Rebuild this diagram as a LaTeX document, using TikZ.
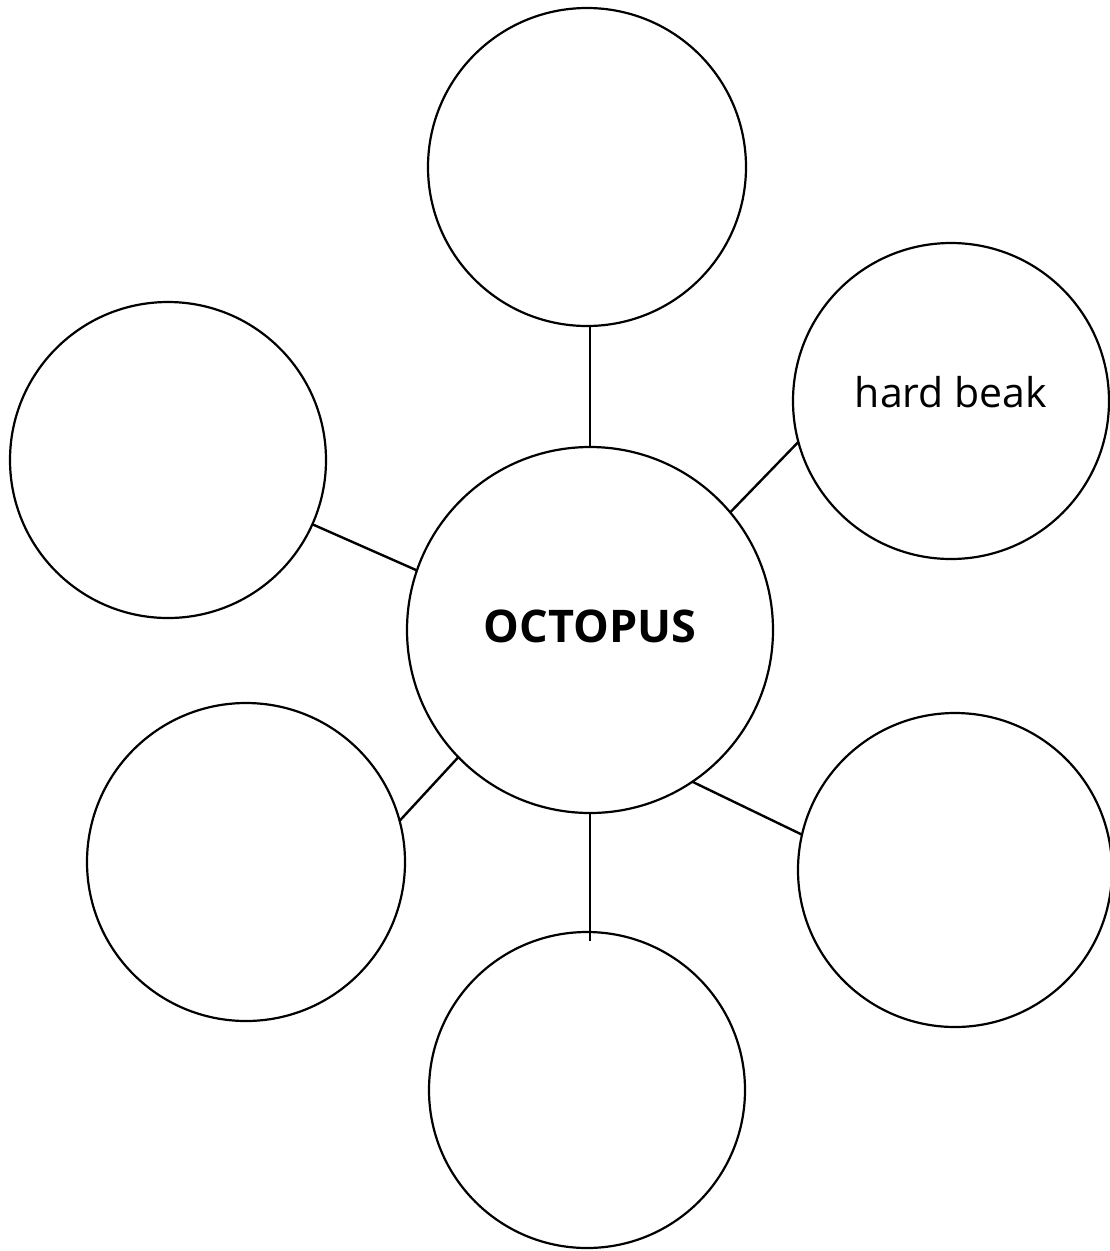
\documentclass[tikz,border=0pt]{standalone}
\usepackage{fontspec}
\setmainfont{Open Sans}
\newcommand{\lbl}{\fontsize{41}{47}\selectfont}
\newcommand{\ttlb}{\fontsize{45}{52}\selectfont\bfseries}
\tikzset{
 bubble/.style={circle,draw,line width=2.2pt,minimum size=#1},
 spoke/.style={line width=2.4pt}
}
\begin{document}
\begin{tikzpicture}[x=1pt,y=-1pt,every node/.style={inner sep=0pt,outer sep=0pt}]
\path[use as bounding box] (0,0) rectangle (1110,1251);
% ---------- hub
\node[bubble=366pt] (octo) at (590,630) {};
\node at (590,626) {\ttlb OCTOPUS};
% ---------- outer bubbles
\node[bubble=318pt] (top) at (587,167) {};
\node[bubble=316pt] (beak) at (951,401) {};
\node at (951,392) {\lbl hard beak};
\node[bubble=316pt] (upleft) at (168,460) {};
\node[bubble=318pt] (lowleft) at (246,862) {};
\node[bubble=314pt] (lowright) at (955,870) {};
\node[bubble=316pt] (bottom) at (587,1090) {};
% ---------- spokes
\draw[spoke] (octo.north) -- (octo.north |- top.south);
\draw[spoke] (octo.40.7) -- (beak.195.1);
\draw[spoke] (octo.161.7) -- (upleft.-24.5);
\draw[spoke] (octo.224.6) -- (lowleft.15.7);
\draw[spoke] (octo.-56.2) -- (lowright.167.4);
\draw[spoke] (octo.south) -- ([yshift=-9pt]octo.south |- bottom.north);
\end{tikzpicture}
\end{document}
